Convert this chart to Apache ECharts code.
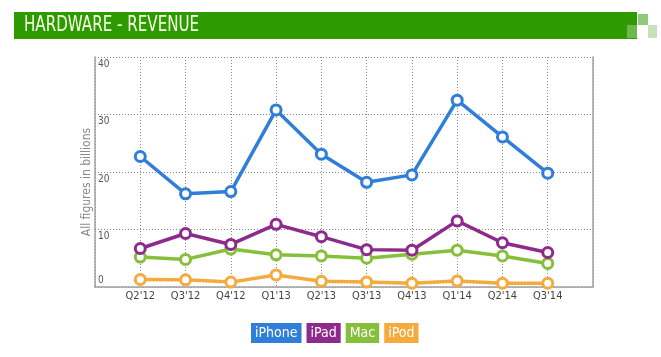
<!DOCTYPE html>
<html>
<head>
<meta charset="utf-8">
<script src="https://cdn.jsdelivr.net/npm/echarts@6/dist/echarts.min.js"></script>
<style>
html,body{margin:0;padding:0;background:#fff;}
#chart{width:661px;height:357px;}
</style>
</head>
<body>
<div id="chart"></div>
<script>
const quarters = ["Q2'12","Q3'12","Q4'12","Q1'13","Q2'13","Q3'13","Q4'13","Q1'14","Q2'14","Q3'14"];
const iPhone = [22.7, 16.2, 16.6, 30.8, 23.1, 18.2, 19.5, 32.5, 26.1, 19.8];
const iPad   = [6.7, 9.3, 7.4, 10.9, 8.75, 6.5, 6.4, 11.5, 7.7, 6.0];
const mac    = [5.2, 4.8, 6.6, 5.6, 5.4, 5.0, 5.7, 6.4, 5.4, 4.1];
const iPod   = [1.3, 1.25, 0.85, 2.1, 1.0, 0.85, 0.65, 1.05, 0.65, 0.65];
const yTicks = [0, 10, 20, 30, 40];

const seriesNames = ['iPhone','iPad','Mac','iPod'];
const seriesColors = ['#2f7ed8','#8d2a8c','#86c03a','#f5aa3c'];
const seriesValues = [iPhone, iPad, mac, iPod];

const font = "'DejaVu Sans Condensed','Liberation Sans',sans-serif";

const chart = echarts.init(document.getElementById('chart'), null, {renderer:'canvas'});

const series = seriesNames.map((name, k) => ({
  name: name,
  type: 'line',
  data: quarters.map((q, i) => [i, seriesValues[k][i]]),
  symbol: 'circle',
  symbolSize: 10,
  showAllSymbol: true,
  lineStyle: {color: seriesColors[k], width: 3.5},
  itemStyle: {color: '#fff', borderColor: seriesColors[k], borderWidth: 3},
  z: 10 - k,
  emphasis: {disabled: true}
}));

chart.setOption({
  animation: false,
  backgroundColor: '#fff',
  grid: {left: 95, right: 68, top: 57, bottom: 70, containLabel: false},
  xAxis: {
    type: 'value',
    min: -1, max: 10, interval: 1,
    axisLine: {show: true, onZero: false, lineStyle: {color: '#a0a0a0', width: 1.5}},
    axisTick: {show: false},
    splitLine: {show: true, lineStyle: {color: '#888', type: [1, 2], width: 1}},
    axisLabel: {
      margin: 4,
      color: '#444',
      fontSize: 11,
      fontFamily: font,
      formatter: v => (quarters[v] !== undefined ? quarters[v] : '')
    }
  },
  yAxis: [{
    type: 'value',
    min: yTicks[0], max: yTicks[yTicks.length - 1], interval: 10,
    name: 'All figures in billions',
    nameLocation: 'middle',
    nameGap: 2,
    nameMoveOverlap: false,
    nameTextStyle: {color: '#888', fontSize: 12, fontFamily: font, padding: [0, 20, 0, 0]},
    axisLine: {show: true, onZero: false, lineStyle: {color: '#a0a0a0', width: 1.5}},
    axisTick: {show: false},
    splitLine: {show: true, lineStyle: {color: '#888', type: [1, 2], width: 1}},
    axisLabel: {
      inside: true,
      margin: 3,
      verticalAlign: 'middle',
      formatter: v => (v === 0 ? '{z|' + v + '}' : '{n|' + v + '}'),
      rich: {
        n: {color: '#555', fontSize: 10, fontFamily: font, padding: [14, 0, 0, 0]},
        z: {color: '#555', fontSize: 10, fontFamily: font, padding: [0, 0, 14, 0]}
      }
    }
  }, {
    type: 'value',
    position: 'right',
    min: 0, max: 40, interval: 10,
    axisLine: {show: true, onZero: false, lineStyle: {color: '#a0a0a0', width: 1.5}},
    axisTick: {show: false},
    axisLabel: {show: false},
    splitLine: {show: false}
  }],
  legend: {
    top: 318,
    left: 241,
    icon: 'none',
    itemWidth: 0,
    itemHeight: 10,
    itemGap: 0,
    selectedMode: false,
    data: seriesNames.map((n, k) => ({
      name: n,
      textStyle: {
        color: '#fff',
        fontSize: 14,
        fontFamily: font,
        backgroundColor: seriesColors[k],
        padding: [3, 4, 3, 4]
      }
    }))
  },
  graphic: [
    {type: 'rect', shape: {x: 14, y: 12, width: 623, height: 27}, style: {fill: '#2d9a00'}, silent: true},
    {type: 'rect', shape: {x: 627, y: 25, width: 10, height: 13}, style: {fill: '#6cb84a'}, silent: true},
    {type: 'rect', shape: {x: 638, y: 14, width: 10, height: 11}, style: {fill: '#8fc97a'}, silent: true},
    {type: 'rect', shape: {x: 648, y: 25, width: 9, height: 13}, style: {fill: '#c6e3b8'}, silent: true},
    {type: 'text', x: 24, y: 26, scaleX: 0.8, style: {text: 'HARDWARE - REVENUE', fill: '#f6ffe6', fontSize: 21, fontFamily: font, verticalAlign: 'middle'}, silent: true}
  ],
  series: series
});
</script>
</body>
</html>
